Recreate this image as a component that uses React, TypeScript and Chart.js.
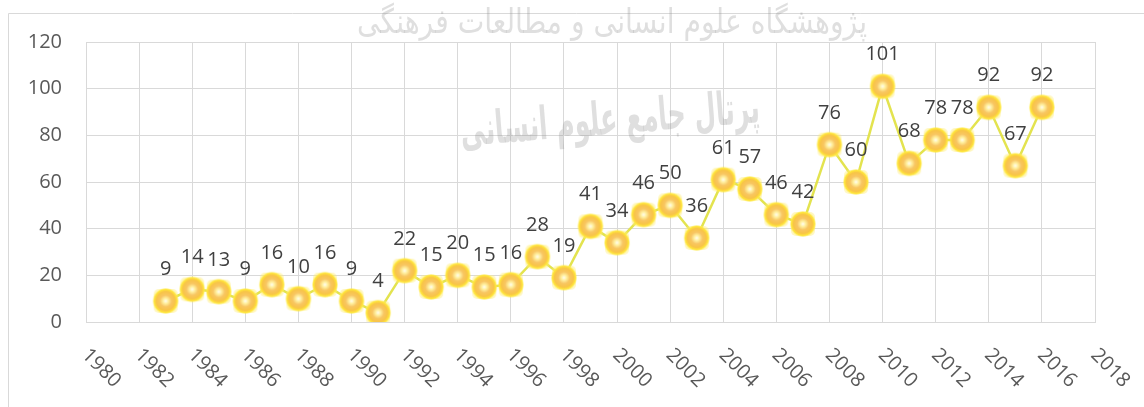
import React, { useEffect, useRef } from "react";
import { Chart, registerables } from "chart.js";

Chart.register(...registerables);

const years = [
  1983, 1984, 1985, 1986, 1987, 1988, 1989, 1990, 1991, 1992, 1993, 1994,
  1995, 1996, 1997, 1998, 1999, 2000, 2001, 2002, 2003, 2004, 2005, 2006,
  2007, 2008, 2009, 2010, 2011, 2012, 2013, 2014, 2015, 2016,
];
const counts = [
  9, 14, 13, 9, 16, 10, 16, 9, 4, 22, 15, 20, 15, 16, 28, 19, 41, 34, 46, 50,
  36, 61, 57, 46, 42, 76, 60, 101, 68, 78, 78, 92, 67, 92,
];
const xMin = 1980;
const xMax = 2018;
const xStep = 2;
const yMin = 0;
const yMax = 120;
const yStep = 20;
const watermarkTop = "پژوهشگاه علوم انسانی و مطالعات فرهنگی";
const watermarkMain = "پرتال جامع علوم انسانی";

const FONT = "'Open Sans', 'Liberation Sans', sans-serif";
const GRID = "#d9d9d9";

function makeMarker(): HTMLCanvasElement {
  const c = document.createElement("canvas");
  c.width = 28;
  c.height = 28;
  const g = c.getContext("2d")!;
  g.fillStyle = "rgba(255,238,120,0.45)";
  g.beginPath();
  (g as any).roundRect ? (g as any).roundRect(2, 2, 24, 24, 5) : g.rect(2, 2, 24, 24);
  g.fill();
  const rg = g.createRadialGradient(14, 14, 0, 14, 14, 13);
  rg.addColorStop(0, "#fffdf0");
  rg.addColorStop(0.2, "#fff0a0");
  rg.addColorStop(0.45, "#f8c662");
  rg.addColorStop(0.72, "#f8c448");
  rg.addColorStop(0.88, "#ffe43a");
  rg.addColorStop(1, "rgba(255,238,80,0.3)");
  g.fillStyle = rg;
  g.beginPath();
  g.arc(14, 14, 13, 0, Math.PI * 2);
  g.fill();
  return c;
}

const decorPlugin = {
  id: "decor",
  beforeDraw(chart: any) {
    const ctx = chart.ctx as CanvasRenderingContext2D;
    ctx.save();
    ctx.fillStyle = "#ffffff";
    ctx.fillRect(0, 0, chart.width, chart.height);
    ctx.strokeStyle = GRID;
    ctx.lineWidth = 1;
    ctx.beginPath();
    ctx.moveTo(8.5, chart.height);
    ctx.lineTo(8.5, 13.5);
    ctx.lineTo(chart.width, 13.5);
    ctx.stroke();
    ctx.restore();
  },
  beforeDatasetsDraw(chart: any) {
    const ctx = chart.ctx as CanvasRenderingContext2D;
    ctx.save();
    ctx.fillStyle = "rgba(140,140,140,0.28)";
    ctx.textAlign = "center";
    ctx.textBaseline = "middle";
    ctx.direction = "rtl";
    ctx.font = `34px 'DejaVu Sans', sans-serif`;
    ctx.fillText(watermarkTop, 612, 24, 510);
    ctx.save();
    ctx.translate(610, 122);
    ctx.rotate(-0.08);
    ctx.font = `bold 46px 'DejaVu Sans', sans-serif`;
    ctx.fillText(watermarkMain, 0, 0, 300);
    ctx.restore();
    ctx.restore();
  },
  afterDatasetsDraw(chart: any) {
    const ctx = chart.ctx as CanvasRenderingContext2D;
    const meta = chart.getDatasetMeta(0);
    ctx.save();
    ctx.fillStyle = "#404040";
    ctx.font = `20px ${FONT}`;
    ctx.textAlign = "center";
    ctx.textBaseline = "alphabetic";
    meta.data.forEach((pt: any, i: number) => {
      ctx.fillText(String(counts[i]), pt.x, pt.y - 26);
    });
    // x tick labels rotated clockwise
    const xs = chart.scales.x;
    ctx.fillStyle = "#595959";
    ctx.font = `20px ${FONT}`;
    ctx.textAlign = "left";
    ctx.textBaseline = "middle";
    for (let v = xMin; v <= xMax; v += xStep) {
      const px = xs.getPixelForValue(v);
      ctx.save();
      ctx.translate(px - 1, 352);
      ctx.rotate(Math.PI / 4);
      ctx.fillText(String(v), 0, 0);
      ctx.restore();
    }
    ctx.restore();
  },
};

export default function App() {
  const ref = useRef<HTMLCanvasElement | null>(null);
  useEffect(() => {
    document.body.style.margin = "0";
    const canvas = ref.current!;
    const marker = makeMarker();
    const chart = new Chart(canvas, {
      type: "line",
      data: {
        datasets: [
          {
            data: years.map((y, i) => ({ x: y, y: counts[i] })),
            borderColor: "rgba(226,226,70,0.95)",
            borderWidth: 2.5,
            pointStyle: marker as any,
            pointRadius: 12,
            pointHoverRadius: 12,
            tension: 0,
            fill: false,
          },
        ],
      },
      options: {
        responsive: false,
        animation: false,
        events: [],
        layout: { padding: { top: 42, right: 49, left: 0, bottom: 0 } },
        plugins: {
          legend: { display: false },
          tooltip: { enabled: false },
          title: { display: false },
        },
        scales: {
          x: {
            type: "linear",
            min: xMin,
            max: xMax,
            ticks: { stepSize: xStep, display: false },
            grid: { color: GRID, lineWidth: 1, drawTicks: false },
            border: { color: GRID, width: 1 },
            afterFit: (s: any) => {
              s.height = 85;
            },
          },
          y: {
            min: yMin,
            max: yMax,
            ticks: {
              stepSize: yStep,
              color: "#595959",
              padding: 24,
              font: { family: FONT, size: 20 },
            },
            grid: { color: GRID, lineWidth: 1, drawTicks: false },
            border: { color: GRID, width: 1 },
            afterFit: (s: any) => {
              s.width = 86;
            },
          },
        },
      },
      plugins: [decorPlugin],
    });
    return () => chart.destroy();
  }, []);
  return (
    <div style={{ width: 1144, height: 407, overflow: "hidden" }}>
      <canvas ref={ref} width={1144} height={407} style={{ display: "block" }} />
    </div>
  );
}
